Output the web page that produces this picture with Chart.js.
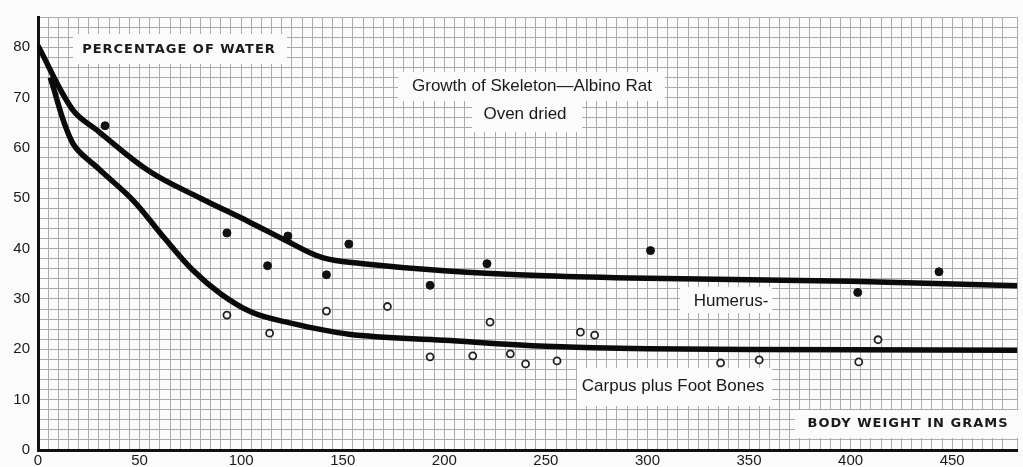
<!DOCTYPE html>
<html>
<head>
<meta charset="utf-8">
<script src="https://cdn.jsdelivr.net/npm/chart.js@4/dist/chart.umd.min.js"></script>
<style>
  html, body { margin: 0; padding: 0; background: #fbfbfb; }
  canvas { display: block; }
</style>
</head>
<body>
<canvas id="c" width="1023" height="467"></canvas>
<script>
// Humerus curve (fitted line), body weight in grams -> % water
const humerusCurveX = [0, 17, 30, 55, 80, 104, 122, 140, 160, 200, 250, 300, 400, 483];
const humerusCurveY = [80.3, 67.6, 63.2, 55.3, 50, 45.3, 41.6, 38.2, 37.0, 35.6, 34.6, 34.1, 33.5, 32.6];

// Carpus plus foot bones curve
const carpusCurveX = [6, 17, 30, 47, 62, 76, 90, 105, 120, 153, 200, 250, 300, 400, 483];
const carpusCurveY = [74, 61, 55.8, 49.5, 42.2, 35.8, 31, 27.4, 25.6, 23.0, 21.8, 20.6, 20.1, 19.9, 19.8];

// observed humerus values (filled dots)
const humerusObsX = [33, 93, 113, 123, 142, 153, 193, 221, 301.5, 403.5, 443.5];
const humerusObsY = [64.4, 43.1, 36.6, 42.5, 34.8, 40.9, 32.7, 37.0, 39.6, 31.3, 35.4];

// observed carpus + foot values (open circles)
const carpusObsX = [93, 114, 142, 172, 193, 214, 222.5, 232.5, 240, 255.5, 267, 274, 336, 355, 404, 413.5];
const carpusObsY = [26.8, 23.2, 27.6, 28.5, 18.5, 18.7, 25.4, 19.1, 17.1, 17.7, 23.4, 22.8, 17.3, 17.9, 17.5, 21.9];

const xTickLabels = [0, 50, 100, 150, 200, 250, 300, 350, 400, 450];
const yTickLabels = [0, 10, 20, 30, 40, 50, 60, 70, 80];

const toPts = (xs, ys) => xs.map((x, i) => ({ x: x, y: ys[i] }));

const labelBoxes = [
  { text: 'PERCENTAGE OF WATER', box: [73, 34, 214, 30], tx: 179, ty: 50, font: 'bold 13px "DejaVu Sans"', spacing: '1px' },
  { text: 'Growth of Skeleton\u2014Albino Rat', box: [398, 72, 267, 29], tx: 532, ty: 86, font: '17px "Liberation Sans"' },
  { text: 'Oven dried', box: [472, 100, 110, 32], tx: 525, ty: 114, font: '17px "Liberation Sans"' },
  { text: 'Humerus-', box: [680, 287, 92, 26], tx: 731, ty: 301, font: '17px "Liberation Sans"' },
  { text: 'Carpus plus Foot Bones', box: [577, 368, 195, 38], tx: 673, ty: 386, font: '17px "Liberation Sans"' },
  { text: 'BODY WEIGHT IN GRAMS', box: [795, 410, 228, 28], tx: 908, ty: 424, font: 'bold 13px "DejaVu Sans"', spacing: '1px' }
];

const ctx = document.getElementById('c').getContext('2d');

new Chart(ctx, {
  data: {
    datasets: [
      {
        type: 'line',
        label: 'Humerus',
        data: toPts(humerusCurveX, humerusCurveY),
        borderColor: '#0a0a0a',
        borderWidth: 5.5,
        pointRadius: 0,
        tension: 0.35,
        fill: false
      },
      {
        type: 'line',
        label: 'Carpus plus Foot Bones',
        data: toPts(carpusCurveX, carpusCurveY),
        borderColor: '#0a0a0a',
        borderWidth: 5.5,
        pointRadius: 0,
        tension: 0.35,
        fill: false
      },
      {
        type: 'scatter',
        label: 'Humerus obs',
        data: toPts(humerusObsX, humerusObsY),
        pointRadius: 4,
        pointBackgroundColor: '#111',
        pointBorderColor: '#111',
        pointBorderWidth: 1
      },
      {
        type: 'scatter',
        label: 'Carpus obs',
        data: toPts(carpusObsX, carpusObsY),
        pointRadius: 3.5,
        pointBackgroundColor: '#fbfbfb',
        pointBorderColor: '#222',
        pointBorderWidth: 1.8
      }
    ]
  },
  options: {
    responsive: false,
    animation: false,
    layout: { padding: { left: 0, right: 2, top: 12, bottom: 0 } },
    plugins: {
      legend: { display: false },
      tooltip: { enabled: false }
    },
    scales: {
      x: {
        type: 'linear',
        min: 0,
        max: 482,
        afterFit: (s) => { s.height = 16; },
        ticks: {
          stepSize: 5,
          autoSkip: false,
          maxRotation: 0,
          padding: 2,
          color: '#1a1a1a',
          font: { size: 15, family: 'Liberation Sans' },
          callback: (v) => xTickLabels.includes(v) ? String(v) : ''
        },
        grid: { color: '#ababab', lineWidth: 1, drawTicks: false },
        border: { color: '#111', width: 3 }
      },
      y: {
        type: 'linear',
        min: 0,
        max: 86,
        afterFit: (s) => { s.width = 38; },
        ticks: {
          stepSize: 2,
          autoSkip: false,
          padding: 8,
          color: '#1a1a1a',
          font: { size: 15, family: 'Liberation Sans' },
          callback: (v) => yTickLabels.includes(v) ? String(v) : ''
        },
        grid: { color: '#ababab', lineWidth: 1, drawTicks: false },
        border: { color: '#111', width: 3 }
      }
    }
  },
  plugins: [{
    id: 'paperBg',
    beforeDraw: (chart) => {
      const c = chart.ctx;
      c.save();
      c.fillStyle = '#fbfbfb';
      c.fillRect(0, 0, chart.width, chart.height);
      c.restore();
    },
    afterDatasetsDraw: (chart) => {
      const c = chart.ctx;
      c.save();
      labelBoxes.forEach((b) => {
        c.fillStyle = '#fbfbfb';
        c.fillRect(b.box[0], b.box[1], b.box[2], b.box[3]);
        c.fillStyle = '#1a1a1a';
        c.font = b.font;
        if ('letterSpacing' in c) c.letterSpacing = b.spacing || '0px';
        c.textAlign = 'center';
        c.textBaseline = 'middle';
        c.fillText(b.text, b.tx, b.ty);
      });
      c.restore();
    }
  }]
});
</script>
</body>
</html>
